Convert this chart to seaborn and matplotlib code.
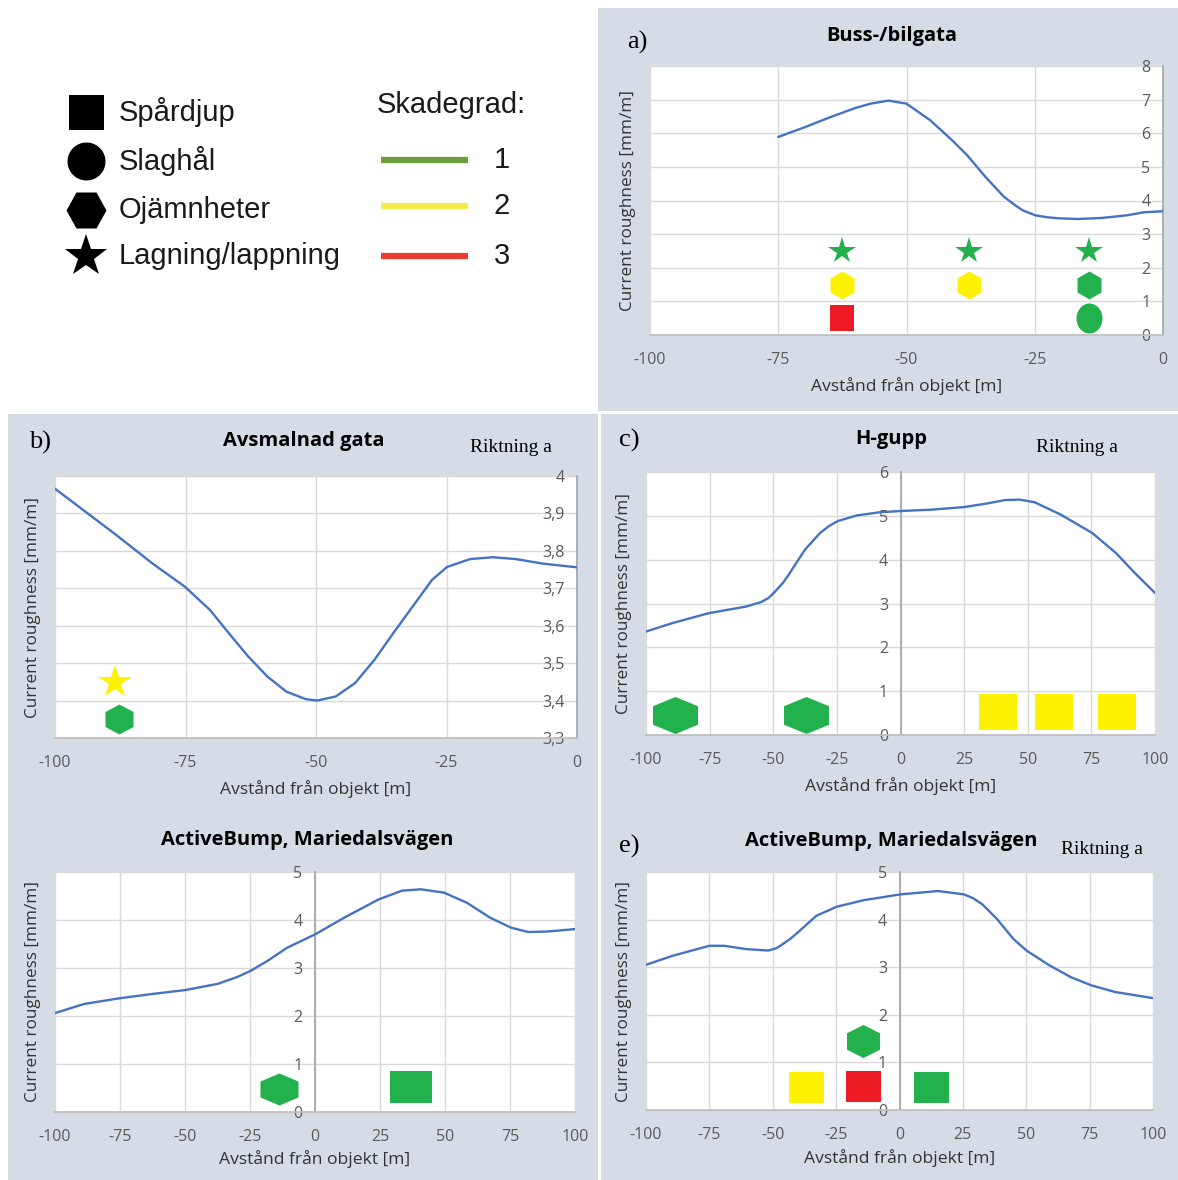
import numpy as np
import matplotlib
matplotlib.use('Agg')
import matplotlib.pyplot as plt
from matplotlib.path import Path
from matplotlib.patches import Rectangle
import seaborn as sns

# ---------------- data ----------------
# a) Buss-/bilgata
A_X = [-75, -70, -65, -60, -57, -53.5, -50, -45.4, -41.1, -38.2, -34.6, -31, -29, -27.4,
       -24.9, -22.5, -20.3, -16.7, -12, -7, -3.7, 0]
A_Y = [5.89, 6.17, 6.47, 6.75, 6.88, 6.97, 6.88, 6.39, 5.79, 5.35, 4.70, 4.11, 3.88, 3.71,
       3.56, 3.50, 3.47, 3.45, 3.48, 3.56, 3.65, 3.68]
A_MX = [-62.6, -62.6, -62.6, -37.9, -37.9, -14.4, -14.4, -14.4]
A_MY = [2.5, 1.5, 0.5, 2.5, 1.5, 2.5, 1.5, 0.5]
A_KIND = ['star', 'hex', 'square', 'star', 'hex', 'star', 'hex', 'circle']
A_SEV = [1, 2, 3, 1, 2, 1, 1, 1]

# b) Avsmalnad gata
B_X = [-100, -88.6, -81.3, -75.1, -70.3, -66.7, -63, -59.3, -55.7, -52, -49.8, -46.2,
       -42.5, -38.8, -35.2, -31.5, -27.8, -24.9, -20.5, -16.1, -11.7, -6.6, 0]
B_Y = [3.966, 3.846, 3.766, 3.704, 3.642, 3.580, 3.518, 3.464, 3.424, 3.404, 3.400, 3.411,
       3.447, 3.509, 3.580, 3.651, 3.722, 3.757, 3.778, 3.783, 3.778, 3.766, 3.756]
B_MX = [-88.5, -87.8]
B_MY = [3.45, 3.35]
B_KIND = ['star', 'hex']
B_SEV = [2, 1]
B_YLABELS = ['3,3', '3,4', '3,5', '3,6', '3,7', '3,8', '3,9', '4']

# c) H-gupp
C_X = [-100, -89.8, -75.3, -60.7, -54.9, -52, -49.8, -46.2, -44, -41.8, -37.5, -31.6, -28,
       -24.7, -17.1, -8.4, 0, 12, 25.1, 33.8, 41.1, 46.9, 52.7, 62.9, 75.3, 84.7, 92, 100]
C_Y = [2.36, 2.55, 2.78, 2.93, 3.03, 3.12, 3.24, 3.47, 3.65, 3.85, 4.23, 4.61, 4.77,
       4.88, 5.01, 5.08, 5.11, 5.14, 5.20, 5.28, 5.36, 5.37, 5.31, 5.03, 4.61, 4.15, 3.70, 3.24]
C_MX = [-88.6, -37.3, 38.2, 60.5, 84.9]
C_MY = [0.46, 0.46, 0.52, 0.53, 0.52]
C_KIND = ['hex', 'hex', 'square', 'square', 'square']
C_SEV = [1, 1, 2, 2, 2]

# d) ActiveBump, Mariedalsvägen
D_X = [-100, -88.9, -75.1, -62.4, -49.9, -37.4, -30, -24.8, -18.2, -10.8, 0, 11.3, 24.5,
       33.4, 40.7, 49.6, 58.4, 67.3, 75.4, 82, 89.4, 100]
D_Y = [2.06, 2.25, 2.37, 2.46, 2.54, 2.67, 2.81, 2.94, 3.15, 3.42, 3.70, 4.05, 4.43,
       4.61, 4.64, 4.57, 4.36, 4.05, 3.84, 3.75, 3.76, 3.81]
D_MX = [-13.8, 36.8]
D_MY = [0.47, 0.53]
D_KIND = ['hex', 'square']
D_SEV = [1, 1]

# e) ActiveBump, Mariedalsvägen (riktning a)
E_X = [-100, -89.5, -75, -69.2, -60.4, -51.7, -48.5, -45.9, -43, -40.1, -32.8, -24.8, -13.9,
       0.4, 15.2, 25.4, 29, 32.7, 38.5, 45, 50.1, 58.8, 67.6, 75.6, 85, 100]
E_Y = [3.05, 3.24, 3.45, 3.45, 3.38, 3.35, 3.40, 3.49, 3.60, 3.73, 4.08, 4.27, 4.41,
       4.53, 4.60, 4.53, 4.45, 4.32, 4.01, 3.59, 3.35, 3.05, 2.79, 2.62, 2.48, 2.35]
E_MX = [-14.3, -37.0, -14.3, 12.4]
E_MY = [1.46, 0.48, 0.5, 0.48]
E_KIND = ['hex', 'square', 'square', 'square']
E_SEV = [1, 2, 3, 1]

LEGEND_TYPES = ['Spårdjup', 'Slaghål', 'Ojämnheter', 'Lagning/lappning']
LEGEND_SEV = ['1', '2', '3']

# ---------------- style ----------------
W, H = 1178, 1180
BG = '#d6dce5'
LINE = '#4472c4'
GRID = '#d9d9d9'
SEV_COL = {1: '#22b14c', 2: '#fff200', 3: '#ed1c24'}
LEG_LINE_COL = ['#6a9e3a', '#f3ea4c', '#ec3b33']
PX = 0.72  # px -> pt at dpi 100

# marker sizes in px (w, h) per panel
MSIZE = {
    'a': {'star': (27, 27), 'hex': (24, 28), 'square': (24, 27), 'circle': (26, 30)},
    'b': {'star': (33, 31), 'hex': (28, 30)},
    'c': {'hex': (45, 37), 'square': (38, 36)},
    'd': {'hex': (38, 32), 'square': (43, 33)},
    'e': {'hex': (33, 33), 'square': (35, 31)},
}


def shape(kind, w, h):
    if kind == 'star':
        return '*', w / 0.951
    if kind == 'square':
        v = [(-w / 2, -h / 2), (w / 2, -h / 2), (w / 2, h / 2), (-w / 2, h / 2), (-w / 2, -h / 2)]
    elif kind == 'hex':
        v = [(0, h / 2), (w / 2, h / 4), (w / 2, -h / 4), (0, -h / 2), (-w / 2, -h / 4),
             (-w / 2, h / 4), (0, h / 2)]
    elif kind == 'hexflat':
        v = [(w / 2, 0), (w / 4, h / 2), (-w / 4, h / 2), (-w / 2, 0), (-w / 4, -h / 2),
             (w / 4, -h / 2), (w / 2, 0)]
    else:
        t = np.linspace(0, 2 * np.pi, 60)
        v = list(zip(w / 2 * np.cos(t), h / 2 * np.sin(t)))
    return Path(v, closed=True), max(w, h)


sns.set_theme(style='white')
plt.rcParams['font.family'] = ['Open Sans', 'DejaVu Sans']
plt.rcParams['axes.unicode_minus'] = False

fig = plt.figure(figsize=(W / 100, H / 100), dpi=100)
fig.patch.set_facecolor('white')

# background layer in pixel coordinates
bg = fig.add_axes([0, 0, 1, 1])
bg.set_xlim(0, W)
bg.set_ylim(H, 0)
bg.axis('off')
for (x0, y0, x1, y1) in [(598, 8, 1178, 411), (8, 414, 598, 1180), (601, 414, 1178, 1180)]:
    bg.add_patch(Rectangle((x0, y0), x1 - x0, y1 - y0, color=BG, lw=0))

# legend block
leg_font = dict(family=['Liberation Sans', 'DejaVu Sans'], fontsize=21, color='#1a1a1a',
                va='center')
leg_y = [112, 161, 210, 256]
leg_shapes = [shape('square', 35, 35), shape('circle', 38, 38), shape('hexflat', 40, 36), ('*', 45)]
for (mk, sz), yy, lab in zip(leg_shapes, leg_y, LEGEND_TYPES):
    bg.plot(86, yy, marker=mk, ms=sz * PX, color='black', mew=0)
    bg.text(119, yy, lab, **leg_font)
bg.text(377, 105, 'Skadegrad:', **leg_font)
for yy, col, lab in zip([160, 206, 256], LEG_LINE_COL, LEGEND_SEV):
    bg.plot([381, 468], [yy, yy], color=col, lw=4.5, solid_capstyle='butt')
    bg.text(502, yy, lab, ha='center', **leg_font)

PANELS = {
    'a': dict(x=A_X, y=A_Y, mx=A_MX, my=A_MY, kind=A_KIND, sev=A_SEV, box=(650, 66, 1163, 335),
              xlim=(-100, 0), ylim=(0, 8), yt=list(range(0, 9)), ytl=None,
              title='Buss-/bilgata', tpos=(892, 36), letter='a)', lpos=(637, 42), rik=None,
              xl_off=51),
    'b': dict(x=B_X, y=B_Y, mx=B_MX, my=B_MY, kind=B_KIND, sev=B_SEV, box=(55, 476, 577, 738),
              xlim=(-100, 0), ylim=(3.3, 4.0), yt=[3.3, 3.4, 3.5, 3.6, 3.7, 3.8, 3.9, 4.0],
              ytl=B_YLABELS, title='Avsmalnad gata', tpos=(304, 441), letter='b)',
              lpos=(40, 442), rik=(511, 448), xl_off=51),
    'c': dict(x=C_X, y=C_Y, mx=C_MX, my=C_MY, kind=C_KIND, sev=C_SEV, box=(646, 472, 1155, 735),
              xlim=(-100, 100), ylim=(0, 6), yt=list(range(0, 7)), ytl=None,
              title='H-gupp', tpos=(891, 439), letter='c)', lpos=(629, 440), rik=(1077, 448),
              xl_off=51),
    'd': dict(x=D_X, y=D_Y, mx=D_MX, my=D_MY, kind=D_KIND, sev=D_SEV, box=(55, 872, 575, 1112),
              xlim=(-100, 100), ylim=(0, 5), yt=list(range(0, 6)), ytl=None,
              title='ActiveBump, Mariedalsvägen', tpos=(307, 840), letter=None, lpos=None,
              rik=None, xl_off=47),
    'e': dict(x=E_X, y=E_Y, mx=E_MX, my=E_MY, kind=E_KIND, sev=E_SEV, box=(646, 872, 1153, 1110),
              xlim=(-100, 100), ylim=(0, 5), yt=list(range(0, 6)), ytl=None,
              title='ActiveBump, Mariedalsvägen', tpos=(891, 841), letter='e)', lpos=(629, 846),
              rik=(1102, 850), xl_off=48),
}

for key, p in PANELS.items():
    x0, y0, x1, y1 = p['box']
    wpx, hpx = x1 - x0, y1 - y0
    ax = fig.add_axes([x0 / W, 1 - y1 / H, wpx / W, hpx / H])
    ax.set_facecolor('white')

    sns.lineplot(x=p['x'], y=p['y'], ax=ax, color=LINE, lw=1.7, zorder=3)
    for mx, my, k, s in zip(p['mx'], p['my'], p['kind'], p['sev']):
        w, h = MSIZE[key][k]
        mk, sz = shape(k, w, h)
        ax.plot(mx, my, marker=mk, ms=sz * PX, color=SEV_COL[s], mew=0, ls='none', zorder=4,
                clip_on=False)

    ax.set_xlim(*p['xlim'])
    ax.set_ylim(*p['ylim'])
    ax.set_xticks(np.arange(p['xlim'][0], p['xlim'][1] + 1, 25))
    ax.set_yticks(p['yt'])
    if p['ytl'] is not None:
        ax.set_yticklabels(p['ytl'])
    ax.grid(True, color=GRID, lw=1)
    ax.set_axisbelow(True)
    ax.spines['left'].set_position(('data', 0))
    ax.spines['left'].set_color('#a6a6a6')
    ax.spines['bottom'].set_color('#bfbfbf')
    ax.spines['top'].set_visible(False)
    ax.spines['right'].set_visible(False)
    ax.tick_params(axis='both', length=0, colors='#595959', labelsize=11.5)
    ax.tick_params(axis='x', pad=12)
    ax.tick_params(axis='y', pad=9)

    ax.set_xlabel('Avstånd från objekt [m]', fontsize=12.6, color='#333333')
    ax.xaxis.label.set_va('center')
    ax.xaxis.set_label_coords(0.5, -p['xl_off'] / hpx)
    ax.set_ylabel('Current roughness [mm/m]', fontsize=12.3, color='#333333')
    ax.yaxis.label.set_va('center')
    ax.yaxis.set_label_coords(-22 / wpx, 0.5)

    bg.text(p['tpos'][0], p['tpos'][1], p['title'], ha='center', va='center',
            fontsize=14.5, fontweight='bold', color='black')
    if p['letter']:
        bg.text(p['lpos'][0], p['lpos'][1], p['letter'], ha='center', va='center',
                fontsize=19, family=['Liberation Serif', 'DejaVu Serif'], color='black')
    if p['rik']:
        bg.text(p['rik'][0], p['rik'][1], 'Riktning a', ha='center', va='center',
                fontsize=14, family=['Liberation Serif', 'DejaVu Serif'], color='black')

fig.savefig('out.png', dpi=100)
